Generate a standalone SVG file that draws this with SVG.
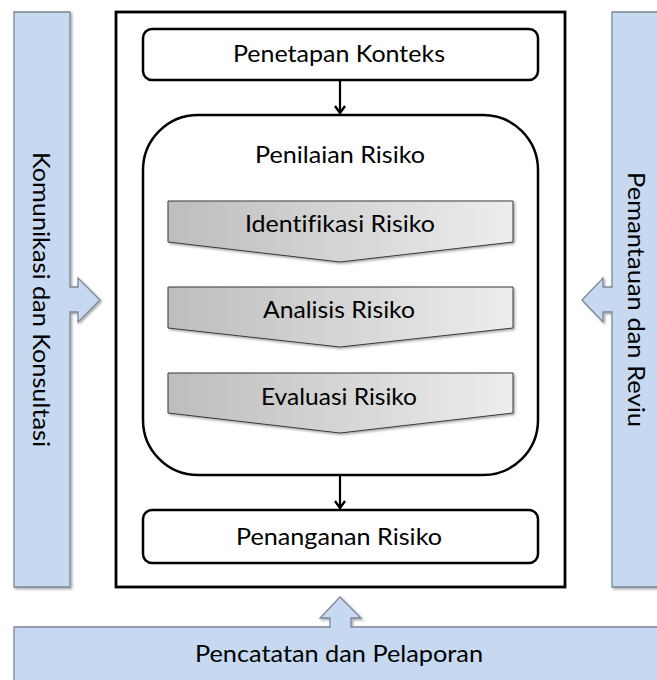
<svg xmlns="http://www.w3.org/2000/svg" width="657" height="680" viewBox="0 0 657 680">
<style>
.txt{font-family:Lato,"Open Sans","Liberation Sans",sans-serif;font-size:23px;fill:#000;font-variant-ligatures:none;}
.blue{fill:#c6d9f1;stroke:#7b8798;stroke-width:1.3;}
.box{fill:#fff;stroke:#000;stroke-width:2.5;}
.chev{fill:url(#g);stroke:#3a3a3a;stroke-width:1;}
.conn{stroke:#000;stroke-width:2.2;fill:none;}
</style>
<defs>
<linearGradient id="g" x1="0" y1="0" x2="1" y2="0">
<stop offset="0" stop-color="#bdbdbd"/>
<stop offset="1" stop-color="#ededed"/>
</linearGradient>
<filter id="sh" x="-10%" y="-10%" width="130%" height="130%">
<feDropShadow dx="1.5" dy="1.5" stdDeviation="1.2" flood-color="#000" flood-opacity="0.35"/>
</filter>
<marker id="ah" viewBox="0 0 12 12" refX="11" refY="6" markerWidth="12" markerHeight="12" markerUnits="userSpaceOnUse" orient="auto">
<path d="M4,1 L11,6 L4,11" fill="none" stroke="#000" stroke-width="2.4"/>
</marker>
</defs>
<rect width="657" height="680" fill="#fff"/>

<g id="komunikasi">
<path class="blue" filter="url(#sh)" d="M14,12 H70 V287 H78 V278 L100,300 L78,322 V312 H70 V587 H14 Z"/>
<text class="txt" transform="translate(33,299.5) rotate(90)" text-anchor="middle" textLength="295" lengthAdjust="spacingAndGlyphs">Komunikasi dan Konsultasi</text>
</g>

<g id="pemantauan">
<path class="blue" filter="url(#sh)" d="M612,12 H662 V587 H612 V312 H603 V322 L582,300 L603,278 V287 H612 Z"/>
<text class="txt" transform="translate(628,299.5) rotate(90)" text-anchor="middle" textLength="255" lengthAdjust="spacingAndGlyphs">Pemantauan dan Reviu</text>
</g>

<g id="pencatatan">
<path class="blue" filter="url(#sh)" d="M14,627 H330 V618 H320 L340,597 L361,618 H351 V627 H662 V690 H14 Z"/>
<text class="txt" x="339" y="662" text-anchor="middle" textLength="288" lengthAdjust="spacingAndGlyphs">Pencatatan dan Pelaporan</text>
</g>

<g id="frame">
<rect x="116" y="12" width="449" height="575" fill="#fff" stroke="#000" stroke-width="2.8"/>
</g>

<g id="penetapan">
<rect class="box" x="143" y="29" width="395" height="51" rx="9"/>
<text class="txt" x="339" y="62" text-anchor="middle" textLength="212" lengthAdjust="spacingAndGlyphs">Penetapan Konteks</text>
</g>

<g id="penilaian">
<rect class="box" x="143" y="115" width="395" height="360" rx="55"/>
<text class="txt" x="340" y="163" text-anchor="middle" textLength="170" lengthAdjust="spacingAndGlyphs">Penilaian Risiko</text>
</g>

<g id="identifikasi">
<path class="chev" filter="url(#sh)" d="M168,201 H513 V242 L340,262 L168,242 Z"/>
<text class="txt" x="340" y="232" text-anchor="middle" textLength="190" lengthAdjust="spacingAndGlyphs">Identifikasi Risiko</text>
</g>

<g id="analisis">
<path class="chev" filter="url(#sh)" d="M168,287 H513 V328 L340,347 L168,328 Z"/>
<text class="txt" x="339" y="318" text-anchor="middle" textLength="152" lengthAdjust="spacingAndGlyphs">Analisis Risiko</text>
</g>

<g id="evaluasi">
<path class="chev" filter="url(#sh)" d="M168,373 H513 V413 L340,433 L168,413 Z"/>
<text class="txt" x="339" y="405" text-anchor="middle" textLength="156" lengthAdjust="spacingAndGlyphs">Evaluasi Risiko</text>
</g>

<g id="penanganan">
<rect class="box" x="143" y="510" width="395" height="53" rx="9"/>
<text class="txt" x="339" y="545" text-anchor="middle" textLength="206" lengthAdjust="spacingAndGlyphs">Penanganan Risiko</text>
</g>

<g id="connectors">
<line class="conn" x1="340" y1="81" x2="340" y2="113" marker-end="url(#ah)"/>
<line class="conn" x1="340" y1="476" x2="340" y2="508" marker-end="url(#ah)"/>
</g>
</svg>
